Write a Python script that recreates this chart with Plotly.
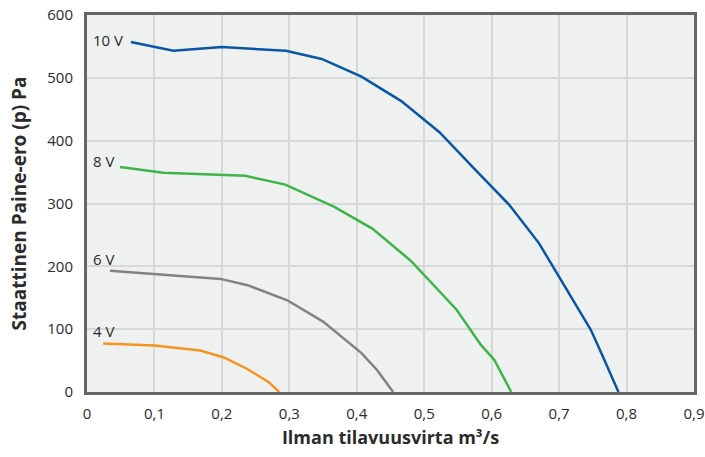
import plotly.graph_objects as go

x_10v = [0.065, 0.128, 0.200, 0.295, 0.348, 0.407, 0.466, 0.523, 0.572, 0.626, 0.670, 0.718, 0.747, 0.765, 0.788]
y_10v = [557, 543, 549, 543, 530, 502, 463, 413, 358, 298, 237, 151, 99, 56, 0]

x_8v = [0.049, 0.113, 0.235, 0.294, 0.366, 0.423, 0.480, 0.548, 0.584, 0.604, 0.629]
y_8v = [358, 349, 344, 330, 295, 260, 209, 131, 75, 51, 0]

x_6v = [0.034, 0.198, 0.238, 0.297, 0.350, 0.394, 0.407, 0.430, 0.454]
y_6v = [193, 180, 170, 146, 112, 73, 62, 35, 0]

x_4v = [0.024, 0.100, 0.168, 0.203, 0.237, 0.269, 0.285]
y_4v = [77, 74, 66, 55, 37, 16, 0]

series = [
    ("10 V", x_10v, y_10v, "#0a56a6", 560),
    ("8 V", x_8v, y_8v, "#3db54a", 368),
    ("6 V", x_6v, y_6v, "#828282", 212),
    ("4 V", x_4v, y_4v, "#f7931e", 97),
]

x_ticks = [0, 0.1, 0.2, 0.3, 0.4, 0.5, 0.6, 0.7, 0.8, 0.9]
x_tick_labels = ["0", "0,1", "0,2", "0,3", "0,4", "0,5", "0,6", "0,7", "0,8", "0,9"]
y_ticks = [0, 100, 200, 300, 400, 500, 600]

font = "Open Sans, sans-serif"

fig = go.Figure()
for name, xs, ys, color, ly in series:
    fig.add_trace(go.Scatter(x=xs, y=ys, mode="lines", name=name,
                             line=dict(color=color, width=2.5), showlegend=False))
    fig.add_annotation(x=0.006, y=ly, text=name, showarrow=False, xref="x", yref="y",
                       xanchor="left", yanchor="middle",
                       font=dict(size=15, color="#2b2b2b", family=font))

fig.update_layout(
    width=705, height=457,
    margin=dict(l=87, r=11, t=15, b=65, autoexpand=False),
    paper_bgcolor="white",
    plot_bgcolor="#eff1f0",
    font=dict(family=font, color="#2b2b2b", size=15),
    xaxis=dict(
        range=[0, 0.9], tickvals=x_ticks, ticktext=x_tick_labels, automargin=False,
        showgrid=True, gridcolor="#d8d8d8", gridwidth=1.5,
        showline=True, linecolor="#666666", linewidth=3, mirror=True,
        zeroline=False, ticks="", ticklabelstandoff=6,
        title=dict(text="<b>Ilman tilavuusvirta m³/s</b>", font=dict(size=18, color="#2b2b2b"), standoff=10),
    ),
    yaxis=dict(
        range=[0, 600], tickvals=y_ticks, automargin=False,
        showgrid=True, gridcolor="#d8d8d8", gridwidth=1.5,
        showline=True, linecolor="#666666", linewidth=3, mirror=True,
        zeroline=False, ticks="", ticklabelstandoff=8,
        title=dict(text="<b>Staattinen Paine-ero (p) Pa</b>", font=dict(size=19, color="#2b2b2b"), standoff=16),
    ),
)

fig.write_html("out.html", config={"displayModeBar": False},
               post_script="document.body.style.margin='0';document.body.style.overflow='hidden';")
